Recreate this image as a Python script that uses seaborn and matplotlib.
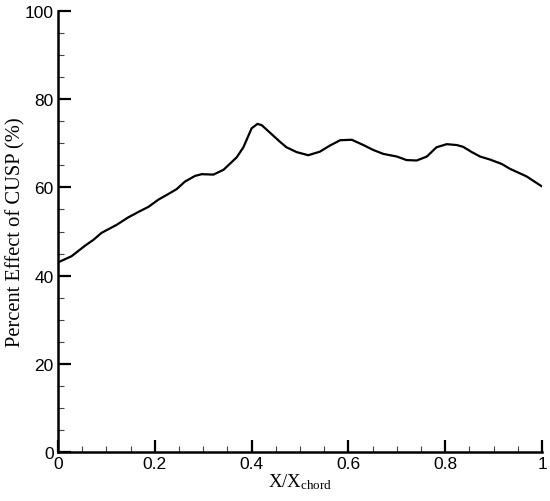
import numpy as np
import pandas as pd
import matplotlib
matplotlib.use("Agg")
import matplotlib.pyplot as plt
from matplotlib.ticker import MultipleLocator
import seaborn as sns

# values
x_chord = [0.0, 0.004, 0.028, 0.056, 0.073, 0.090, 0.121, 0.145, 0.169, 0.187,
           0.207, 0.231, 0.245, 0.262, 0.283, 0.297, 0.321, 0.342, 0.369, 0.383,
           0.400, 0.412, 0.421, 0.445, 0.459, 0.472, 0.493, 0.517, 0.541, 0.562,
           0.583, 0.607, 0.631, 0.651, 0.672, 0.700, 0.720, 0.741, 0.762, 0.782,
           0.803, 0.824, 0.837, 0.855, 0.872, 0.893, 0.917, 0.934, 0.968, 1.0]
effect = [43.0, 43.2, 44.4, 46.8, 48.1, 49.7, 51.5, 53.2, 54.6, 55.6,
          57.2, 58.7, 59.6, 61.3, 62.6, 63.0, 62.9, 64.0, 66.8, 69.1,
          73.4, 74.4, 74.1, 71.7, 70.3, 69.1, 68.0, 67.3, 68.1, 69.5,
          70.7, 70.8, 69.6, 68.5, 67.6, 67.0, 66.2, 66.1, 67.0, 69.1,
          69.8, 69.6, 69.2, 68.0, 67.0, 66.3, 65.3, 64.2, 62.5, 60.2]
x_ticks = [0, 0.2, 0.4, 0.6, 0.8, 1]
x_ticklabels = ["0", "0.2", "0.4", "0.6", "0.8", "1"]

df = pd.DataFrame({"x": x_chord, "effect": effect})

sns.set_style("ticks")
plt.rcParams["mathtext.fontset"] = "stix"

fig = plt.figure(figsize=(5.5, 5.02), dpi=100)
ax = fig.add_axes([0.1055, 0.0976, 0.88, 0.8785])

sns.lineplot(data=df, x="x", y="effect", color="black", linewidth=1.6, ax=ax)

ax.set_xlim(0, 1)
ax.set_ylim(0, 100)
ax.set_xticks(x_ticks)
ax.set_xticklabels(x_ticklabels)
ax.xaxis.set_minor_locator(MultipleLocator(0.05))
ax.yaxis.set_major_locator(MultipleLocator(20))
ax.yaxis.set_minor_locator(MultipleLocator(5))

ax.tick_params(which="major", direction="in", length=9, width=1.6, color="black",
               labelsize=12.5, labelcolor="black", pad=3)
ax.tick_params(which="minor", direction="in", length=4.5, width=0.8, color="#444444")
for lab in ax.get_xticklabels() + ax.get_yticklabels():
    lab.set_family("Liberation Sans")

sns.despine(ax=ax)
for s in ["left", "bottom"]:
    ax.spines[s].set_linewidth(1.8)
    ax.spines[s].set_color("black")

ax.set_xlabel(r"X/X$_{\mathregular{chord}}$", family="Liberation Serif", fontsize=13.5,
              color="black", labelpad=0)
ax.set_ylabel("Percent Effect of CUSP (%)", family="Liberation Serif", fontsize=14.8,
              color="black")
ax.yaxis.set_label_coords(-0.068, 0.5)

fig.savefig("out.png", dpi=100)
